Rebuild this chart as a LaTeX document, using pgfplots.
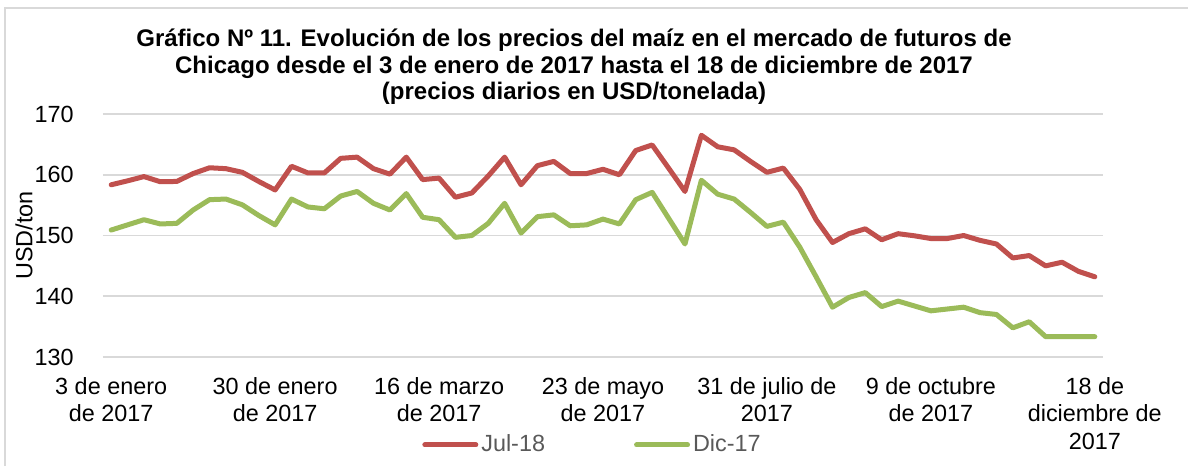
\documentclass[border=0pt]{standalone}
\usepackage{fontspec}
\setmainfont{Liberation Sans}
\usepackage{pgfplots}
\usepackage{pgfplotstable}
\pgfplotsset{compat=1.18}
\definecolor{jul}{HTML}{C0504D}
\definecolor{dic}{HTML}{9BBB59}
\definecolor{gridc}{HTML}{D9D9D9}
\definecolor{legtxt}{HTML}{595959}
\definecolor{framec}{HTML}{D9D9D9}
\pgfplotstableread{
idx jul dic
0 158.35 150.9
1 159.0 151.75
2 159.7 152.6
3 158.85 151.9
4 158.9 152.0
5 160.2 154.2
6 161.15 155.9
7 161.0 156.0
8 160.4 155.05
9 158.9 153.3
10 157.5 151.75
11 161.4 156.0
12 160.3 154.7
13 160.3 154.4
14 162.7 156.5
15 162.9 157.25
16 161.0 155.3
17 160.1 154.2
18 162.9 156.9
19 159.2 153.0
20 159.45 152.6
21 156.3 149.7
22 157.0 150.0
23 159.8 152.0
24 162.9 155.3
25 158.35 150.4
26 161.5 153.1
27 162.2 153.4
28 160.2 151.6
29 160.2 151.75
30 160.9 152.7
31 160.0 151.9
32 164.0 155.9
33 164.9 157.1
34 161.1 152.85
35 157.25 148.6
36 166.5 159.1
37 164.6 156.8
38 164.1 156.0
39 162.2 153.8
40 160.4 151.5
41 161.1 152.2
42 157.6 148.1
43 152.6 143.2
44 148.85 138.2
45 150.3 139.8
46 151.1 140.6
47 149.3 138.3
48 150.3 139.2
49 149.95 138.4
50 149.5 137.6
51 149.5 137.9
52 150.0 138.2
53 149.2 137.3
54 148.6 137.0
55 146.3 134.8
56 146.7 135.8
57 145.0 133.35
58 145.6 133.35
59 144.1 133.35
60 143.2 133.35
}\prices
\begin{document}
\begin{tikzpicture}
\useasboundingbox (-51.5pt,-54.5pt) rectangle (542.5pt,178.5pt);
\draw[framec, line width=0.75pt] (-49pt,-54.5pt) -- (-49pt,174.5pt) -- (542.5pt,174.5pt);
\begin{axis}[
  at={(0pt,0pt)}, anchor=south west,
  scale only axis, width=500pt, height=121.5pt,
  xmin=-0.5, xmax=60.5, ymin=130, ymax=170,
  ytick={130,140,150,160,170},
  xtick={0,10,20,30,40,50,60},
  xticklabels={{3 de enero\\de 2017},{30 de enero\\de 2017},{16 de marzo\\de 2017},{23 de mayo\\de 2017},{31 de julio de\\2017},{9 de octubre\\de 2017},{18 de\\diciembre de\\2017}},
  xticklabel style={align=center, font=\fontsize{11.7}{13.75}\selectfont, yshift=-6.7pt},
  yticklabel style={font=\fontsize{11.7}{13.75}\selectfont, xshift=-11.1pt},
  /pgf/number format/assume math mode=true,
  ymajorgrids, grid style={gridc, line width=0.9pt},
  axis line style={draw=none}, tick style={draw=none},
  legend columns=2,
  legend style={draw=none, fill=none, at={(0.49,-0.362)}, anchor=center,
    font=\fontsize{11.7}{13.75}\selectfont\color{legtxt}, inner sep=0pt,
    /tikz/every even column/.append style={column sep=43pt},
    nodes={inner sep=1.5pt}},
  legend image code/.code={\draw[#1, line width=2.5pt, line cap=round] (0pt,0pt) -- (25.5pt,0pt);},
]
\addplot[jul, line width=2.5pt, line join=round, line cap=round] table[x=idx, y=jul] {\prices};
\addlegendentry{Jul-18}
\addplot[dic, line width=2.5pt, line join=round, line cap=round] table[x=idx, y=dic] {\prices};
\addlegendentry{Dic-17}
\end{axis}
\node[rotate=90, font=\fontsize{11.7}{13.75}\selectfont] at (-39.5pt,60.75pt) {USD/ton};
\node[align=center, font=\bfseries\fontsize{12}{13.25}\selectfont] at (235.5pt,145pt)
  {Gráfico Nº 11. Evolución de los precios del maíz en el mercado de futuros de\\Chicago desde el 3 de enero de 2017 hasta el 18 de diciembre de 2017\\(precios diarios en USD/tonelada)};
\end{tikzpicture}
\end{document}
